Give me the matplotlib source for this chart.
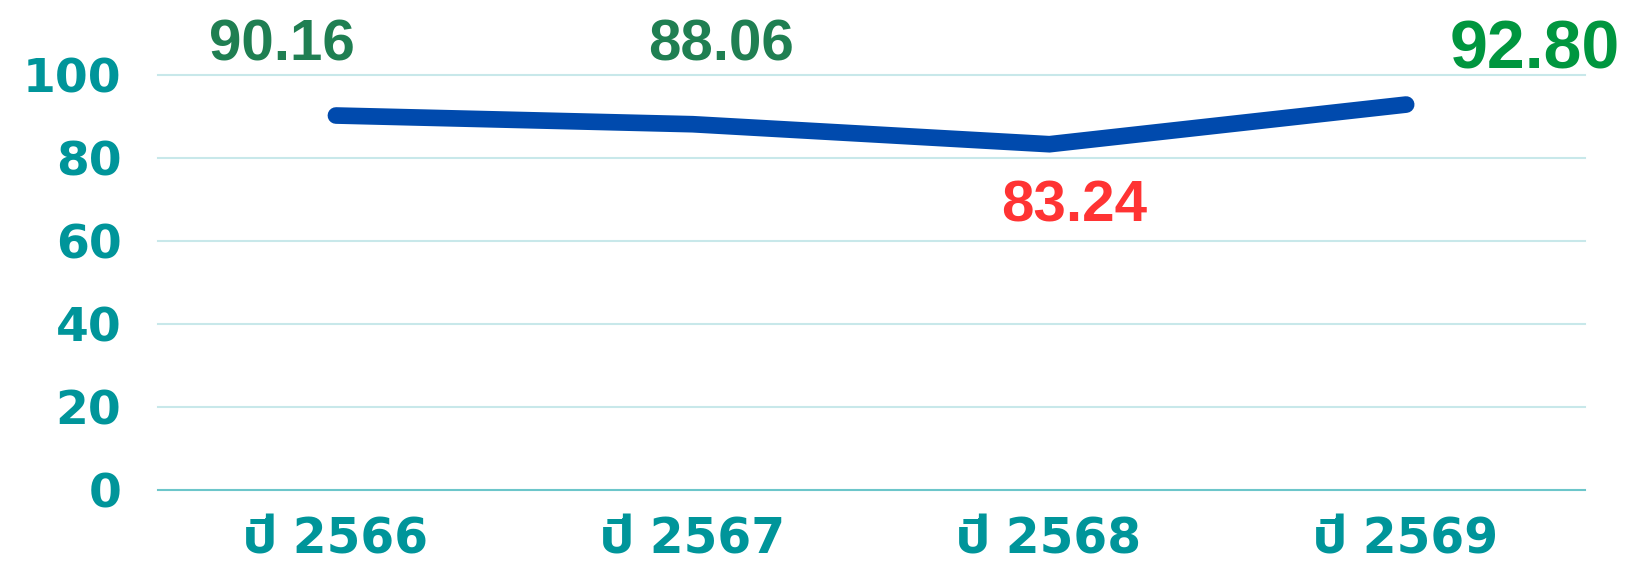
import matplotlib
matplotlib.use('Agg')
import matplotlib.pyplot as plt
import numpy as np

# data
years = ['ปี 2566', 'ปี 2567', 'ปี 2568', 'ปี 2569']
scores = [90.16, 88.06, 83.24, 92.80]
labels = ['90.16', '88.06', '83.24', '92.80']
yticks = [0, 20, 40, 60, 80, 100]

# label placement (data units) and colours
label_dx = [-0.15, 0.08, 0.07, 0.36]
label_y = [103.5, 103.5, 64.5, 101.4]
label_size = [42, 42, 42, 49]
label_color = ['#1f7f52', '#1f7f52', '#ff3333', '#00963f']

teal = '#00959a'
tick_font = ['DejaVu Sans', 'Prompt']

fig = plt.figure(figsize=(16.26, 5.65), dpi=100)
ax = fig.add_axes([0.0969, 0.1336, 0.8776, 0.7342])

x = np.arange(len(years))

# grid lines
for v in yticks:
    ax.axhline(v, color='#6cc6ca' if v == 0 else '#c8e8ea', linewidth=1.5, zorder=1, clip_on=False)

ax.plot(x, scores, color='#004aad', linewidth=12, solid_capstyle='round',
        solid_joinstyle='miter', zorder=3, clip_on=False)

for i in range(len(scores)):
    ax.text(x[i] + label_dx[i], label_y[i], labels[i], ha='center', va='baseline',
            fontsize=label_size[i], fontweight='bold', color=label_color[i],
            family=['Liberation Sans', 'DejaVu Sans'], clip_on=False)

ax.set_xlim(-0.5, 3.5)
ax.set_ylim(0, 100)
ax.set_yticks(yticks)
ax.set_yticklabels([str(v) for v in yticks])
ax.set_xticks(x)
ax.set_xticklabels(years)
for t in ax.get_yticklabels():
    t.set_family(tick_font)
    t.set_fontweight('bold')
    t.set_fontsize(34)
    t.set_color(teal)
for t in ax.get_xticklabels():
    t.set_family(tick_font)
    t.set_fontweight('bold')
    t.set_fontsize(35)
    t.set_color(teal)
ax.tick_params(axis='both', length=0)
ax.tick_params(axis='y', pad=26)
ax.tick_params(axis='x', pad=19)

for s in ax.spines.values():
    s.set_visible(False)

fig.savefig('out.png', dpi=100)
